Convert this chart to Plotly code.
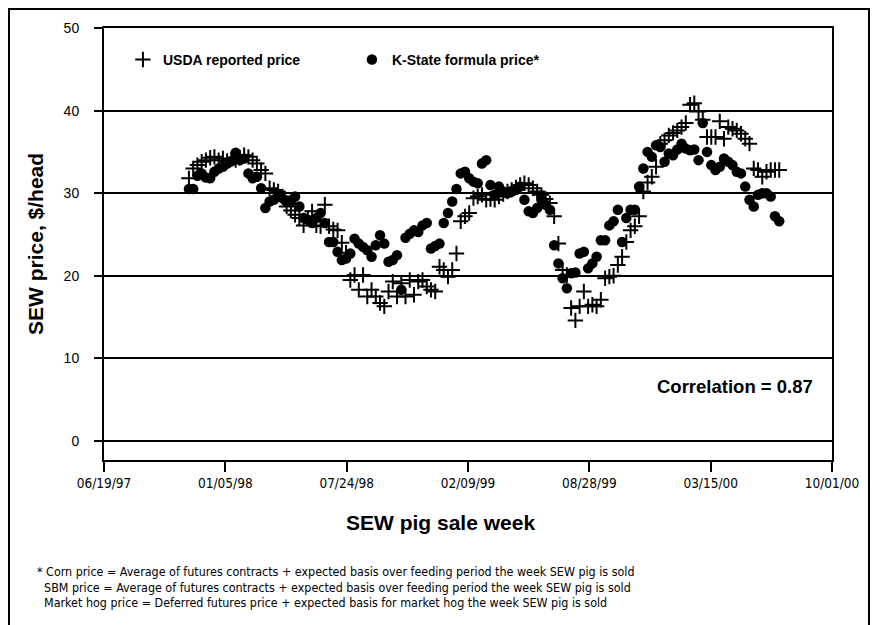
import pandas as pd
import plotly.graph_objects as go

# weekly SEW pig sale dates
start_week = "1997-11-06"
n_weeks = 140
weeks = pd.date_range(start_week, periods=n_weeks, freq="7D")

usda_price = [
    31.8, 33.0, 33.4, 33.8, 34.0, 34.3, 34.4, 34.0, 34.2, 33.9,
    34.1, 34.0, 34.3, 34.6, 34.4, 34.0, 33.6, 32.8, 32.4, 30.6,
    30.4, 30.2, 29.6, 28.4, 27.9, 27.4, 27.0, 26.1, 27.0, 27.8,
    26.1, 26.0, 28.6, 26.0, 25.6, 25.5, 24.0, 22.8, 19.5, 20.1,
    18.3, 20.1, 17.5, 18.3, 17.5, 16.7, 16.3, 18.1, 19.3, 17.5,
    19.1, 17.5, 19.5, 17.7, 19.3, 19.5, 18.7, 18.3, 18.1, 21.1,
    20.7, 19.9, 20.7, 22.7, 26.6, 27.2, 27.6, 29.4, 29.6, 29.8,
    29.2, 29.3, 29.2, 29.6, 29.9, 30.2, 30.4, 30.7, 31.0, 31.2,
    31.0, 30.6, 30.2, 29.8, 29.3, 28.8, 27.2, 23.9, 20.7, 20.1,
    16.1, 14.6, 16.3, 18.1, 16.3, 16.5, 16.3, 17.1, 19.7, 19.9,
    20.0, 21.3, 22.3, 24.1, 25.5, 26.0, 27.2, 30.2, 31.3, 32.0,
    33.2, 36.0, 36.4, 37.0, 37.3, 37.6, 38.0, 38.5, 40.7, 40.9,
    39.9, 38.9, 36.8, 36.8, 36.8, 38.7, 36.6, 38.0, 37.8, 37.6,
    37.2, 36.6, 36.0, 33.0, 32.8, 32.0, 32.6, 32.8, 32.8, 32.8,
]

kstate_price = [
    30.5, 30.5, 32.1, 32.4, 31.9, 31.8, 32.6, 33.0, 33.2, 33.6,
    33.9, 34.9, 34.0, 34.2, 32.4, 31.8, 32.0, 30.6, 28.2, 29.0,
    29.2, 29.6, 29.4, 29.0, 29.0, 29.6, 28.4, 27.0, 26.8, 26.4,
    27.0, 27.6, 26.4, 24.1, 24.1, 22.9, 21.9, 22.1, 22.7, 24.5,
    23.9, 23.5, 23.1, 22.3, 23.7, 24.9, 23.9, 21.7, 21.9, 22.5,
    18.3, 24.6, 25.1, 25.5, 25.3, 26.1, 26.4, 23.3, 23.6, 23.9,
    26.4, 27.6, 29.0, 30.5, 32.4, 32.6, 31.8, 31.4, 31.2, 33.6,
    34.0, 31.0, 29.8, 30.8, 30.2, 30.0, 30.2, 30.4, 30.8, 29.2,
    27.8, 27.6, 28.2, 29.2, 28.6, 28.0, 23.7, 21.5, 19.7, 18.5,
    20.3, 20.4, 22.7, 22.9, 20.9, 21.5, 22.3, 24.3, 24.3, 26.1,
    26.6, 28.0, 24.1, 27.0, 28.0, 28.0, 30.8, 33.0, 35.0, 34.4,
    35.8, 35.6, 33.8, 34.8, 34.6, 35.3, 36.0, 35.4, 35.2, 35.3,
    34.0, 38.5, 35.0, 33.4, 32.8, 33.2, 34.2, 33.8, 33.4, 32.6,
    32.4, 30.8, 29.2, 28.4, 29.8, 30.0, 30.0, 29.6, 27.2, 26.6,
]

y_ticks = [0, 10, 20, 30, 40, 50]
x_range = ["1997-06-19", "2000-10-01"]
tick_step_days = 200

footnotes = [
    "* Corn price = Average of futures contracts + expected basis over feeding period the week SEW pig is sold",
    "&nbsp;&nbsp;SBM price = Average of futures contracts + expected basis over feeding period the week SEW pig is sold",
    "&nbsp;&nbsp;Market hog price = Deferred futures price + expected basis for market hog the week SEW pig is sold",
]

FONT = "Liberation Sans, Arial, sans-serif"
NARROW = "Liberation Sans Narrow, DejaVu Sans Condensed, sans-serif"

usda_trace = go.Scatter(
    x=weeks,
    y=usda_price,
    name="USDA reported price",
    mode="markers",
    marker=dict(symbol="cross-thin", size=11, color="black",
                line=dict(width=2, color="black")),
)

kstate_trace = go.Scatter(
    x=weeks,
    y=kstate_price,
    name="K-State formula price*",
    mode="markers",
    marker=dict(symbol="circle", size=10.5, color="black"),
)

fig = go.Figure(data=[usda_trace, kstate_trace])

# page body has an 8px margin, so the figure is a bit smaller and shifted
fig.update_layout(
    width=870,
    height=617,
    paper_bgcolor="white",
    plot_bgcolor="white",
    margin=dict(l=96, r=46, t=20, b=165, pad=0),
    font=dict(family=FONT, color="black", size=12),
    legend=dict(
        orientation="h",
        x=0.026,
        xanchor="left",
        y=0.926,
        yanchor="middle",
        entrywidth=184,
        entrywidthmode="pixels",
        font=dict(family=FONT, size=14, weight="bold"),
        bgcolor="rgba(0,0,0,0)",
    ),
)

fig.update_xaxes(
    type="date",
    range=x_range,
    tick0=x_range[0],
    dtick=tick_step_days * 86400000,
    tickformat="%m/%d/%y",
    ticks="outside",
    ticklen=10,
    tickwidth=2,
    tickcolor="black",
    showline=True,
    linewidth=2,
    linecolor="black",
    mirror=True,
    showgrid=False,
    tickfont=dict(family=NARROW, size=13.5),
)

fig.update_yaxes(
    range=[-2.3, 50],
    tickvals=y_ticks,
    ticks="outside",
    ticklen=8,
    tickwidth=2,
    tickcolor="black",
    showline=True,
    linewidth=2,
    linecolor="black",
    mirror=True,
    showgrid=True,
    gridcolor="black",
    gridwidth=2,
    zeroline=True,
    zerolinecolor="black",
    zerolinewidth=2,
    ticklabelstandoff=12,
    tickfont=dict(family=FONT, size=14),
)

fig.add_annotation(
    text="<b>SEW pig sale week</b>",
    xref="paper", yref="paper",
    x=0.462, y=-0.1458,
    xanchor="center", yanchor="middle",
    showarrow=False,
    font=dict(family=FONT, size=21),
)

fig.add_annotation(
    text="<b>SEW price, $/head</b>",
    xref="paper", yref="paper",
    x=-0.0948, y=0.5,
    xanchor="center", yanchor="middle",
    textangle=-90,
    showarrow=False,
    font=dict(family=FONT, size=21),
)

fig.add_annotation(
    text="<b>Correlation = 0.87</b>",
    xref="paper", yref="paper",
    x=0.9766, y=0.169,
    xanchor="right", yanchor="middle",
    showarrow=False,
    font=dict(family=FONT, size=18.5),
)

for i, line in enumerate(footnotes):
    fig.add_annotation(
        text=line,
        xref="paper", yref="paper",
        x=-0.095, y=-0.257 - 0.037 * i,
        xanchor="left", yanchor="middle",
        showarrow=False,
        font=dict(family=NARROW, size=12.4),
    )

# outer frame around the whole picture
fig.add_shape(
    type="rect",
    xref="paper", yref="paper",
    x0=-0.1305, x1=1.0508, y0=-0.45, y1=1.044,
    line=dict(color="black", width=2),
)

fig.write_html("out.html")
